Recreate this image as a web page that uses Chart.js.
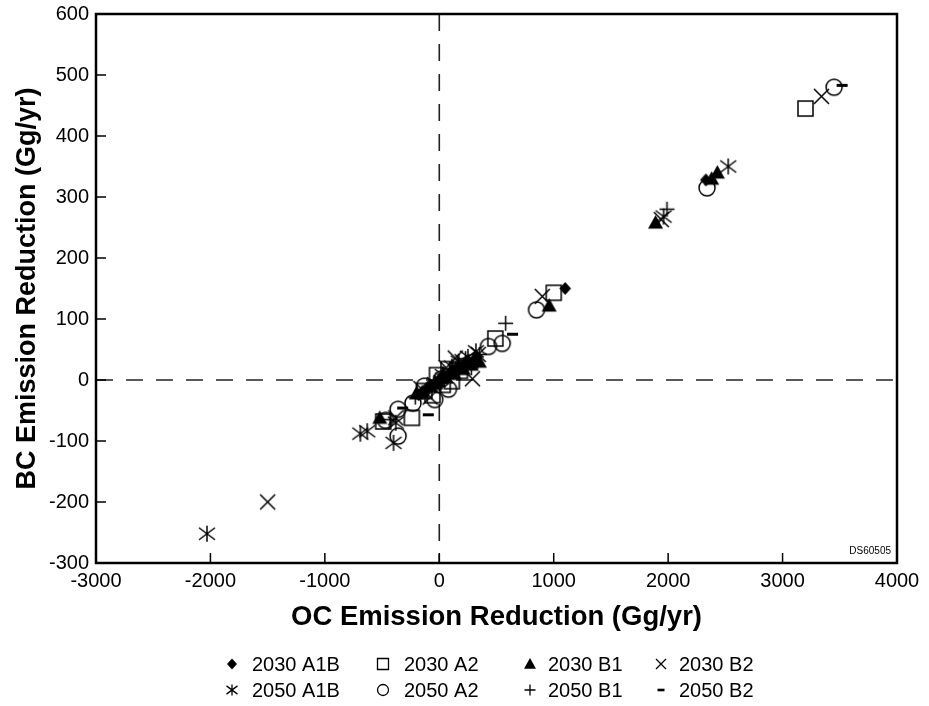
<!DOCTYPE html>
<html>
<head>
<meta charset="utf-8">
<script src="https://cdn.jsdelivr.net/npm/chart.js@4.4.1/dist/chart.umd.min.js"></script>
<style>
    html, body { margin: 0; padding: 0; background: #fff; }
    #wrap { width: 929px; height: 706px; position: relative; }
</style>
</head>
<body>
<div id="wrap"><canvas id="myChart"></canvas></div>
<script>
var seriesNames = ['2030 A1B', '2030 A2', '2030 B1', '2030 B2', '2050 A1B', '2050 A2', '2050 B1', '2050 B2'];
var markerKinds = ['diamond', 'square', 'triangle', 'x', 'asterisk', 'circle', 'plus', 'dash'];

// [OC, BC] reduction pairs, Gg/yr
var a1b2030 = [[1100, 150], [2330, 328], [330, 38], [310, 33], [260, 28], [220, 26], [200, 22], [150, 17], [120, 14], [90, 10], [40, 5], [0, 0], [-30, -4], [-70, -9], [-110, -15], [-180, -24]];
var a2_2030 = [[3200, 445], [1000, 143], [490, 68], [-240, -62], [-490, -68], [-130, -18], [-60, -25], [30, -8], [110, -2], [180, 15], [-20, 8], [80, 18]];
var b1_2030 = [[2430, 340], [2380, 330], [1890, 258], [960, 122], [-520, -62], [350, 30], [310, 35], [280, 25], [240, 29], [210, 18], [170, 20], [130, 10], [100, 13], [60, 4], [20, 3], [-10, -2], [-40, -6], [-80, -10], [-150, -20], [-200, -22]];
var b2_2030 = [[3340, 465], [-1500, -200], [1940, 263], [900, 137], [290, 2], [140, 36], [-380, -62], [-80, -28], [60, 20], [200, 30], [-160, -14], [340, 42]];
var a1b2050 = [[-2030, -252], [2525, 350], [1960, 268], [-690, -88], [-630, -84], [-400, -103], [320, 47], [250, 38], [170, 30], [110, 22], [-40, -5], [30, 8], [-380, -70]];
var a2_2050 = [[3450, 480], [2340, 315], [850, 115], [430, 55], [550, 60], [-360, -92], [-470, -66], [-360, -48], [-230, -38], [-40, -32], [80, -15], [-130, -10], [20, 2]];
var b1_2050 = [[1990, 280], [580, 93], [350, 42], [230, 35], [160, 28], [90, 18], [-40, -4], [-210, -28], [-430, -65], [30, 10], [280, 20]];
var b2_2050 = [[3520, 483], [640, 75], [-320, -46], [-96, -57], [170, 22], [60, 6], [-130, -18], [300, 35], [-20, -10], [120, 12]];

var allSeries = [a1b2030, a2_2030, b1_2030, b2_2030, a1b2050, a2_2050, b1_2050, b2_2050];

var xTicks = [-3000, -2000, -1000, 0, 1000, 2000, 3000, 4000];
var yTicks = [-300, -200, -100, 0, 100, 200, 300, 400, 500, 600];

var FONT = '"Liberation Sans", Arial, Helvetica, sans-serif';

// marker half sizes in plot / in legend
var plotSize = {diamond: 6.5, square: 7.5, triangle: 7.5, x: 7.5, asterisk: 8, circle: 8, plus: 7.5, dash: 5.5};
var legendSize = {diamond: 5.5, square: 5.5, triangle: 6, x: 5, asterisk: 5.5, circle: 5.5, plus: 5.5, dash: 3.5};

function drawMarker(ctx, kind, x, y, s, lw) {
    ctx.save();
    ctx.strokeStyle = '#000';
    ctx.fillStyle = '#000';
    ctx.lineWidth = lw;
    ctx.setLineDash([]);
    ctx.beginPath();
    if (kind == 'diamond') {
        ctx.moveTo(x, y - s); ctx.lineTo(x + s * 0.9, y); ctx.lineTo(x, y + s); ctx.lineTo(x - s * 0.9, y);
        ctx.closePath(); ctx.fill();
    } else if (kind == 'square') {
        ctx.rect(x - s, y - s, 2 * s, 2 * s); ctx.stroke();
    } else if (kind == 'triangle') {
        ctx.moveTo(x, y - s); ctx.lineTo(x + s, y + s * 0.8); ctx.lineTo(x - s, y + s * 0.8);
        ctx.closePath(); ctx.fill();
    } else if (kind == 'x') {
        ctx.moveTo(x - s, y - s); ctx.lineTo(x + s, y + s);
        ctx.moveTo(x - s, y + s); ctx.lineTo(x + s, y - s); ctx.stroke();
    } else if (kind == 'asterisk') {
        ctx.moveTo(x - s, y - s * 0.75); ctx.lineTo(x + s, y + s * 0.75);
        ctx.moveTo(x - s, y + s * 0.75); ctx.lineTo(x + s, y - s * 0.75);
        ctx.moveTo(x, y - s); ctx.lineTo(x, y + s); ctx.stroke();
    } else if (kind == 'circle') {
        ctx.arc(x, y, s, 0, Math.PI * 2); ctx.stroke();
    } else if (kind == 'plus') {
        ctx.moveTo(x - s, y); ctx.lineTo(x + s, y);
        ctx.moveTo(x, y - s); ctx.lineTo(x, y + s); ctx.stroke();
    } else if (kind == 'dash') {
        ctx.lineWidth = lw * 2;
        ctx.moveTo(x - s, y); ctx.lineTo(x + s, y); ctx.stroke();
    }
    ctx.restore();
}

function makeMarkerCanvas(kind) {
    var s = plotSize[kind];
    var c = document.createElement('canvas');
    var n = Math.ceil(2 * s + 6);
    c.width = n; c.height = n;
    drawMarker(c.getContext('2d'), kind, n / 2, n / 2, s, 1.5);
    return c;
}

var datasets = [];
for (let i = 0; i < seriesNames.length; i++) {
    datasets.push({
        label: seriesNames[i],
        data: allSeries[i].map(function (p) { return {x: p[0], y: p[1]}; }),
        pointStyle: makeMarkerCanvas(markerKinds[i]),
        pointRadius: plotSize[markerKinds[i]],
        showLine: false
    });
}

const decoPlugin = {
    id: 'deco',
    beforeDatasetsDraw(chart) {
        const ctx = chart.ctx, a = chart.chartArea;
        const x0 = chart.scales.x.getPixelForValue(0);
        const y0 = chart.scales.y.getPixelForValue(0);
        ctx.save();
        ctx.strokeStyle = '#222';
        ctx.lineWidth = 1.6;
        ctx.setLineDash([17, 13]);
        ctx.beginPath();
        ctx.moveTo(x0, a.top); ctx.lineTo(x0, a.bottom);
        ctx.moveTo(a.left, y0); ctx.lineTo(a.right, y0);
        ctx.stroke();
        ctx.restore();
    },
    afterDraw(chart) {
        const ctx = chart.ctx, a = chart.chartArea;
        const sx = chart.scales.x, sy = chart.scales.y;
        ctx.save();
        // frame
        ctx.strokeStyle = '#000';
        ctx.lineWidth = 2.5;
        ctx.strokeRect(a.left, a.top, a.right - a.left, a.bottom - a.top);
        // inner ticks
        ctx.lineWidth = 1.5;
        ctx.beginPath();
        xTicks.forEach(function (v) {
            const px = sx.getPixelForValue(v);
            ctx.moveTo(px, a.bottom); ctx.lineTo(px, a.bottom - 10);
        });
        yTicks.forEach(function (v) {
            const py = sy.getPixelForValue(v);
            ctx.moveTo(a.left, py); ctx.lineTo(a.left + 10, py);
        });
        ctx.stroke();
        // drawing id
        ctx.fillStyle = '#000';
        ctx.font = '10px ' + FONT;
        ctx.textAlign = 'right';
        ctx.textBaseline = 'middle';
        ctx.fillText('DS60505', a.right - 6, a.bottom - 12);
        // legend, 4 columns x 2 rows
        const symX = [232, 383, 530, 661];
        const txtX = [252, 404, 548, 679];
        const rowY = [664, 690];
        ctx.font = '20px ' + FONT;
        ctx.textAlign = 'left';
        for (let i = 0; i < seriesNames.length; i++) {
            const col = i % 4, row = Math.floor(i / 4);
            drawMarker(ctx, markerKinds[i], symX[col], rowY[row], legendSize[markerKinds[i]], 1.3);
            ctx.fillText(seriesNames[i], txtX[col], rowY[row] + 1);
        }
        ctx.restore();
    }
};

function plainTick(v) { return String(v); }

const config = {
    type: 'scatter',
    data: {datasets: datasets},
    options: {
        responsive: true,
        maintainAspectRatio: false,
        animation: false,
        layout: {padding: {left: 0, right: 32, top: 14, bottom: 0}},
        plugins: {
            legend: {display: false},
            tooltip: {enabled: false}
        },
        scales: {
            x: {
                type: 'linear',
                min: xTicks[0],
                max: xTicks[xTicks.length - 1],
                grid: {display: false, drawTicks: false},
                border: {display: false},
                ticks: {
                    stepSize: xTicks[1] - xTicks[0],
                    color: '#000',
                    padding: 6,
                    maxRotation: 0,
                    font: {family: FONT, size: 20},
                    callback: plainTick
                },
                title: {
                    display: true,
                    text: 'OC Emission Reduction (Gg/yr)',
                    color: '#000',
                    font: {family: FONT, size: 27.5, weight: 'bold'},
                    padding: {top: 0, bottom: 72}
                },
                afterFit: function (scale) { scale.height = 143; }
            },
            y: {
                type: 'linear',
                min: yTicks[0],
                max: yTicks[yTicks.length - 1],
                grid: {display: false, drawTicks: false},
                border: {display: false},
                ticks: {
                    stepSize: yTicks[1] - yTicks[0],
                    color: '#000',
                    padding: 7,
                    font: {family: FONT, size: 20, lineHeight: 0.6},
                    callback: plainTick
                },
                title: {
                    display: true,
                    text: 'BC Emission Reduction (Gg/yr)',
                    color: '#000',
                    font: {family: FONT, size: 27, weight: 'bold'},
                    padding: {top: 11, bottom: 0}
                },
                afterFit: function (scale) { scale.width = 96; }
            }
        }
    },
    plugins: [decoPlugin]
};

const myChart = new Chart(document.getElementById('myChart'), config);
</script>
</body>
</html>
